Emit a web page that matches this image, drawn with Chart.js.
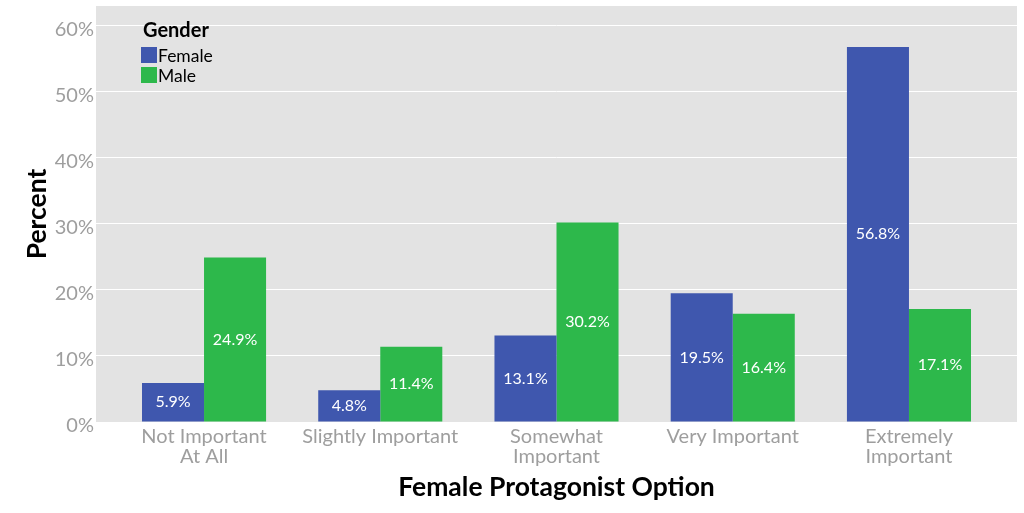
<!DOCTYPE html>
<html>
<head>
<meta charset="utf-8">
<script src="https://cdn.jsdelivr.net/npm/chart.js@4/dist/chart.umd.min.js"></script>
<style>
  html, body { margin: 0; padding: 0; background: #fff; }
  #wrap { width: 1024px; height: 513px; }
</style>
</head>
<body>
<div id="wrap"><canvas id="c"></canvas></div>
<script>
var categories = [
  ["Not Important", "At All"],
  "Slightly Important",
  ["Somewhat", "Important"],
  "Very Important",
  ["Extremely", "Important"]
];
var female = [5.9, 4.8, 13.1, 19.5, 56.8];
var male = [24.9, 11.4, 30.2, 16.4, 17.1];
var yTicks = [0, 10, 20, 30, 40, 50, 60];

function toPoints(arr) {
  return arr.map(function (v, i) { return { x: i + 1, y: v }; });
}

// grey panel behind the plot
var panel = {
  id: 'panel',
  beforeDraw: function (chart) {
    var a = chart.chartArea, ctx = chart.ctx;
    ctx.save();
    ctx.fillStyle = '#E3E3E3';
    ctx.fillRect(a.left, a.top, a.right - a.left, a.bottom - a.top);
    ctx.restore();
  }
};

// y tick labels sit a little below their gridline, like the original
var yLabels = {
  id: 'yLabels',
  afterDraw: function (chart) {
    var y = chart.scales.y, ctx = chart.ctx;
    ctx.save();
    ctx.font = '20px Lato';
    ctx.fillStyle = '#9E9E9E';
    ctx.textAlign = 'right';
    ctx.textBaseline = 'middle';
    y.ticks.forEach(function (t) {
      ctx.fillText(t.value + '%', y.right - 2, y.getPixelForValue(t.value) + 4);
    });
    ctx.restore();
  }
};

// value labels in the middle of each bar
var barLabels = {
  id: 'barLabels',
  afterDatasetsDraw: function (chart) {
    var ctx = chart.ctx;
    ctx.save();
    ctx.font = '16px Lato';
    ctx.fillStyle = '#ffffff';
    ctx.textAlign = 'center';
    ctx.textBaseline = 'middle';
    chart.data.datasets.forEach(function (ds, di) {
      chart.getDatasetMeta(di).data.forEach(function (bar, i) {
        var v = ds.data[i].y;
        ctx.fillText(v.toFixed(1) + '%', bar.x, (bar.y + bar.base) / 2);
      });
    });
    ctx.restore();
  }
};

// legend drawn inside the panel, top-left
var insideLegend = {
  id: 'insideLegend',
  afterDraw: function (chart) {
    var ctx = chart.ctx;
    ctx.save();
    ctx.fillStyle = '#000';
    ctx.textBaseline = 'middle';
    ctx.textAlign = 'left';
    ctx.font = 'bold 20px Lato';
    ctx.fillText('Gender', 143, 31);
    ctx.font = '17.5px Lato';
    chart.data.datasets.forEach(function (ds, i) {
      var y = 47 + i * 20;
      ctx.fillStyle = ds.backgroundColor;
      ctx.fillRect(141, y, 16, 16);
      ctx.fillStyle = '#000';
      ctx.fillText(ds.label, 158, y + 9);
    });
    ctx.restore();
  }
};

new Chart(document.getElementById('c').getContext('2d'), {
  type: 'bar',
  data: {
    datasets: [
      { label: 'Female', data: toPoints(female), backgroundColor: '#3F57AE' },
      { label: 'Male', data: toPoints(male), backgroundColor: '#2DB84B' }
    ]
  },
  options: {
    responsive: true,
    maintainAspectRatio: false,
    animation: false,
    categoryPercentage: 0.704,
    barPercentage: 1.0,
    layout: { padding: { left: 0, right: 7, top: 6, bottom: 0 } },
    plugins: {
      legend: { display: false },
      tooltip: { enabled: false }
    },
    scales: {
      x: {
        type: 'linear',
        min: 0.387,
        max: 5.613,
        offset: false,
        grid: { display: false, drawTicks: false },
        border: { display: false },
        afterBuildTicks: function (scale) {
          scale.ticks = categories.map(function (c, i) { return { value: i + 1 }; });
        },
        afterFit: function (scale) {
          scale.height = 91;
          scale.paddingLeft = 0;
          scale.paddingRight = 0;
        },
        ticks: {
          autoSkip: false,
          maxRotation: 0,
          padding: 5,
          color: '#9E9E9E',
          font: { family: 'Lato', size: 20, lineHeight: 1.0 },
          callback: function (v) { return categories[Math.round(v) - 1]; }
        },
        title: {
          display: true,
          text: 'Female Protagonist Option',
          color: '#000',
          font: { family: 'Lato', size: 26.5, weight: 'bold' },
          padding: { top: 0, bottom: 10 }
        }
      },
      y: {
        min: 0,
        max: 63,
        grid: { color: '#ffffff', lineWidth: 1, drawTicks: false },
        border: { display: false },
        afterBuildTicks: function (scale) {
          scale.ticks = yTicks.map(function (v) { return { value: v }; });
        },
        afterFit: function (scale) {
          scale.width = 96;
          scale.paddingTop = 0;
          scale.paddingBottom = 0;
        },
        ticks: {
          padding: 3,
          color: 'rgba(0,0,0,0)',
          font: { family: 'Lato', size: 20 },
          callback: function (v) { return v + '%'; }
        },
        title: {
          display: true,
          text: 'Percent',
          color: '#000',
          font: { family: 'Lato', size: 26.5, weight: 'bold' },
          padding: { top: 22, bottom: 0 }
        }
      }
    }
  },
  plugins: [panel, barLabels, yLabels, insideLegend]
});
</script>
</body>
</html>
